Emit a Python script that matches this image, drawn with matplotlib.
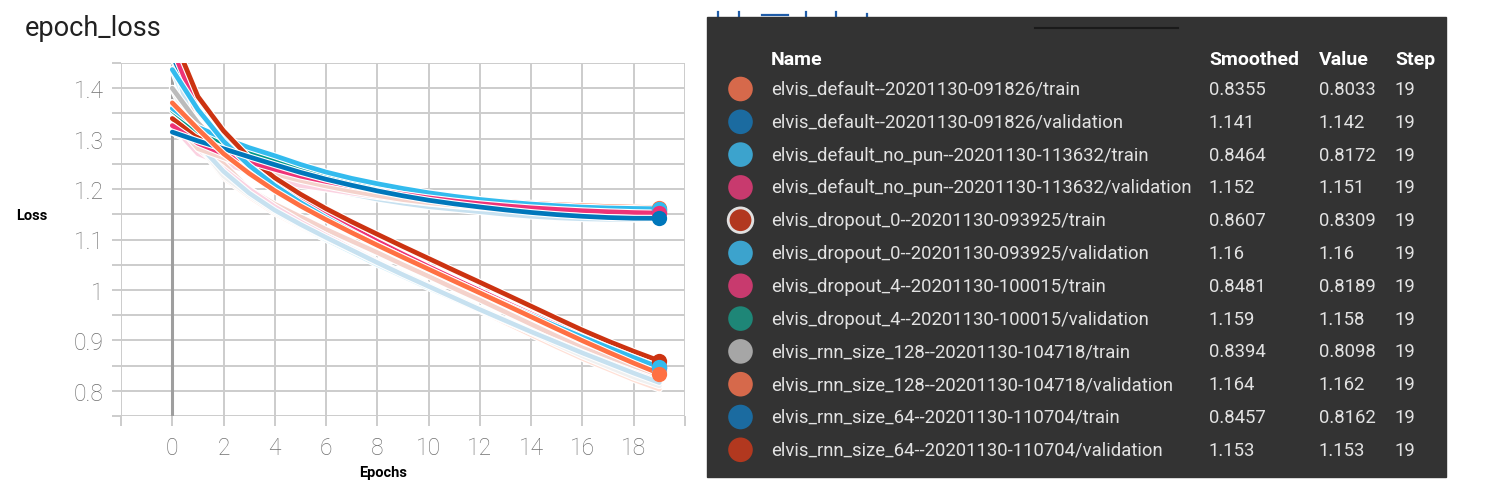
import matplotlib.pyplot as plt
import matplotlib.patheffects as pe
import matplotlib.colors as mcolors
from matplotlib.patches import Rectangle, Circle
import numpy as np

plt.rcParams['font.family'] = ['Roboto', 'DejaVu Sans']

# ---- data (raw epoch loss per run) ----
epochs = list(range(20))

run_names = [
    'elvis_default--20201130-091826/train',
    'elvis_default--20201130-091826/validation',
    'elvis_default_no_pun--20201130-113632/train',
    'elvis_default_no_pun--20201130-113632/validation',
    'elvis_dropout_0--20201130-093925/train',
    'elvis_dropout_0--20201130-093925/validation',
    'elvis_dropout_4--20201130-100015/train',
    'elvis_dropout_4--20201130-100015/validation',
    'elvis_rnn_size_128--20201130-104718/train',
    'elvis_rnn_size_128--20201130-104718/validation',
    'elvis_rnn_size_64--20201130-110704/train',
    'elvis_rnn_size_64--20201130-110704/validation',
]

default_train = [1.371, 1.288, 1.223, 1.185, 1.152, 1.125, 1.100, 1.076, 1.052, 1.029,
                 1.006, 0.982, 0.959, 0.935, 0.911, 0.887, 0.864, 0.843, 0.822, 0.8033]
default_val = [1.313, 1.285, 1.265, 1.245, 1.228, 1.212, 1.200, 1.190, 1.180, 1.172,
               1.165, 1.160, 1.155, 1.150, 1.146, 1.143, 1.141, 1.140, 1.140, 1.142]
no_pun_train = [1.437, 1.310, 1.235, 1.190, 1.155, 1.127, 1.100, 1.075, 1.050, 1.027,
                1.004, 0.982, 0.960, 0.938, 0.916, 0.895, 0.875, 0.855, 0.836, 0.8172]
no_pun_val = [1.326, 1.270, 1.250, 1.235, 1.220, 1.207, 1.200, 1.192, 1.185, 1.178,
              1.172, 1.167, 1.163, 1.160, 1.157, 1.155, 1.153, 1.152, 1.151, 1.151]
dropout0_train = [1.506, 1.310, 1.250, 1.200, 1.170, 1.145, 1.120, 1.097, 1.074, 1.050,
                  1.027, 1.003, 0.980, 0.956, 0.932, 0.908, 0.885, 0.866, 0.848, 0.8309]
dropout0_val = [1.360, 1.300, 1.280, 1.260, 1.245, 1.225, 1.212, 1.203, 1.195, 1.187,
                1.180, 1.175, 1.170, 1.167, 1.164, 1.162, 1.160, 1.160, 1.160, 1.160]
dropout4_train = [1.480, 1.280, 1.240, 1.200, 1.165, 1.135, 1.108, 1.082, 1.057, 1.033,
                  1.009, 0.986, 0.963, 0.940, 0.918, 0.897, 0.876, 0.856, 0.837, 0.8189]
dropout4_val = [1.356, 1.290, 1.270, 1.250, 1.236, 1.222, 1.210, 1.200, 1.190, 1.182,
                1.176, 1.171, 1.167, 1.164, 1.162, 1.160, 1.159, 1.158, 1.158, 1.158]
rnn128_train = [1.400, 1.290, 1.226, 1.188, 1.155, 1.128, 1.103, 1.079, 1.055, 1.032,
                1.009, 0.986, 0.963, 0.940, 0.916, 0.892, 0.869, 0.848, 0.827, 0.8098]
rnn128_val = [1.371, 1.290, 1.270, 1.252, 1.236, 1.222, 1.210, 1.200, 1.192, 1.185,
              1.180, 1.175, 1.172, 1.169, 1.167, 1.165, 1.164, 1.163, 1.162, 1.162]
rnn64_train = [1.465, 1.290, 1.235, 1.192, 1.158, 1.130, 1.104, 1.079, 1.054, 1.030,
               1.007, 0.984, 0.961, 0.939, 0.917, 0.896, 0.875, 0.855, 0.835, 0.8162]
rnn64_val = [1.340, 1.280, 1.262, 1.245, 1.230, 1.217, 1.206, 1.196, 1.187, 1.179,
             1.173, 1.168, 1.164, 1.161, 1.158, 1.156, 1.155, 1.154, 1.153, 1.153]

# smoothed values shown in the tooltip table
smoothed_shown = [0.8355, 1.141, 0.8464, 1.152, 0.8607, 1.16,
                  0.8481, 1.159, 0.8394, 1.164, 0.8457, 1.153]

runs = [default_train, default_val, no_pun_train, no_pun_val,
        dropout0_train, dropout0_val, dropout4_train, dropout4_val,
        rnn128_train, rnn128_val, rnn64_train, rnn64_val]

line_colors = ['#ff7043', '#0077bb', '#33bbee', '#ee3377', '#cc3311', '#33bbee',
               '#ee3377', '#009988', '#bbbbbb', '#ff7043', '#0077bb', '#cc3311']
dot_colors = ['#d6694b', '#1b6ba0', '#3ca3cd', '#c83a6e', '#b2381f', '#3ca3cd',
              '#c83a6e', '#1e8677', '#a6a6a6', '#d6694b', '#1b6ba0', '#b2381f']


def smooth(vals, weight=0.6):
    # tensorboard style debiased exponential moving average
    out = []
    last = 0.0
    for i, v in enumerate(vals):
        last = last * weight + (1 - weight) * v
        out.append(last / (1 - weight ** (i + 1)))
    return out


def pale(c, a=0.22):
    r, g, b = mcolors.to_rgb(c)
    return (1 - a + a * r, 1 - a + a * g, 1 - a + a * b)


fig = plt.figure(figsize=(14.92, 4.89), dpi=100)
W, H = 1492, 489

ax = fig.add_axes([121 / W, 1 - 417 / H, (685 - 121) / W, (417 - 64) / H])
ax.set_xlim(-2, 20)
ax.set_ylim(0.75, 1.45)

grid_c = '#cccccc'
ax.set_xticks(np.arange(-2, 21, 2))
ax.set_xticklabels(['' if t < 0 or t > 18 else str(t) for t in range(-2, 21, 2)])
yt = np.round(np.arange(0.75, 1.4501, 0.05), 2)
ax.set_yticks(yt)
ax.set_yticklabels(['%g' % t if abs(t * 10 - round(t * 10)) < 1e-6 else '' for t in yt])
ax.grid(True, color=grid_c, lw=1.4)
ax.set_axisbelow(True)
ax.tick_params(axis='y', length=6.5, width=1.4, color=grid_c, labelcolor='#707070',
               labelsize=16.5, pad=6)
ax.tick_params(axis='x', length=7.5, width=1.4, color=grid_c, labelcolor='#707070',
               labelsize=16.5, pad=7)
for lab in ax.get_xticklabels() + ax.get_yticklabels():
    lab.set_fontweight('light')
for s in ax.spines.values():
    s.set_visible(False)
ax.axvline(0, color='#9e9e9e', lw=2.2, zorder=1.5)

halo = [pe.Stroke(linewidth=4.9, foreground='white'), pe.Normal()]

# raw lines underneath, pale
for vals, c in zip(runs, line_colors):
    ax.plot(epochs, vals, color=pale(c), lw=3.3, zorder=2,
            solid_joinstyle='round', solid_capstyle='round', path_effects=halo)

# smoothed lines, first run drawn on top
n = len(runs)
for i in range(n - 1, -1, -1):
    sm = smooth(runs[i])
    z = 3 + (n - i) * 0.1
    if i == 8:
        z = 2.9
    ax.plot(epochs, sm, color=line_colors[i], lw=3.4, zorder=z,
            solid_joinstyle='round', solid_capstyle='round',
            path_effects=[pe.Stroke(linewidth=5.0, foreground='white'), pe.Normal()])
for i in range(n - 1, -1, -1):
    sm = smooth(runs[i])
    ax.plot(epochs[-1], sm[-1], 'o', ms=11, color=line_colors[i], mec='none',
            zorder=5 + (n - i) * 0.1)

fig.text(25 / W, 1 - 29 / H, 'epoch_loss', fontsize=19.5, color='#212121', va='center')
fig.text(32 / W, 1 - 216 / H, 'Loss', fontsize=10.5, weight='bold', ha='center', va='center')
fig.text(383 / W, 1 - 473 / H, 'Epochs', fontsize=10.5, weight='bold', ha='center', va='center')

# ---- tooltip table on the right ----
ov = fig.add_axes([0, 0, 1, 1])
ov.set_xlim(0, W)
ov.set_ylim(H, 0)
ov.axis('off')

icon_c = '#1f5ca8'
ov.plot([718, 718, 723], [13, 21, 21], color=icon_c, lw=1.6)
ov.plot([739, 739, 734], [13, 21, 21], color=icon_c, lw=1.6)
ov.plot([762, 788], [16, 16], color=icon_c, lw=1.6)
ov.plot([762, 788], [22, 22], color=icon_c, lw=1.6)
ov.plot([806, 806, 836, 836], [13, 24, 24, 13], color=icon_c, lw=1.6)
ov.plot([857, 877], [22, 22], color=icon_c, lw=1.6)
ov.plot([867, 867], [15, 18], color=icon_c, lw=1.6)

ov.add_patch(Rectangle((707, 18), 739, 460, color='#333333', zorder=2))
ov.plot([1035, 1178], [29, 29], color='#1a1a1a', lw=1.5, zorder=3)

hy = 60
hfs = 14
ov.text(771, hy, 'Name', color='white', fontsize=hfs, weight='bold', va='center', zorder=3)
ov.text(1209, hy, 'Smoothed', color='white', fontsize=hfs, weight='bold', va='center', zorder=3)
ov.text(1319, hy, 'Value', color='white', fontsize=hfs, weight='bold', va='center', zorder=3)
ov.text(1395, hy, 'Step', color='white', fontsize=hfs, weight='bold', va='center', zorder=3)

txt_c = '#e2e2e2'
fs = 13.3
for i, name in enumerate(run_names):
    y = 90 + i * 32.8
    ring = '#e0e0e0' if i == 4 else 'none'
    ov.add_patch(Circle((740.5, y), 12.3, facecolor=dot_colors[i], edgecolor=ring,
                        lw=2, zorder=3))
    ov.text(771, y, name, color=txt_c, fontsize=fs, va='center', zorder=3)
    ov.text(1209, y, '{:.4g}'.format(smoothed_shown[i]), color=txt_c, fontsize=fs,
            va='center', zorder=3)
    ov.text(1319, y, '{:.4g}'.format(runs[i][-1]), color=txt_c, fontsize=fs,
            va='center', zorder=3)
    ov.text(1395, y, str(epochs[-1]), color=txt_c, fontsize=fs, va='center', zorder=3)

fig.savefig('out.png', dpi=100)
